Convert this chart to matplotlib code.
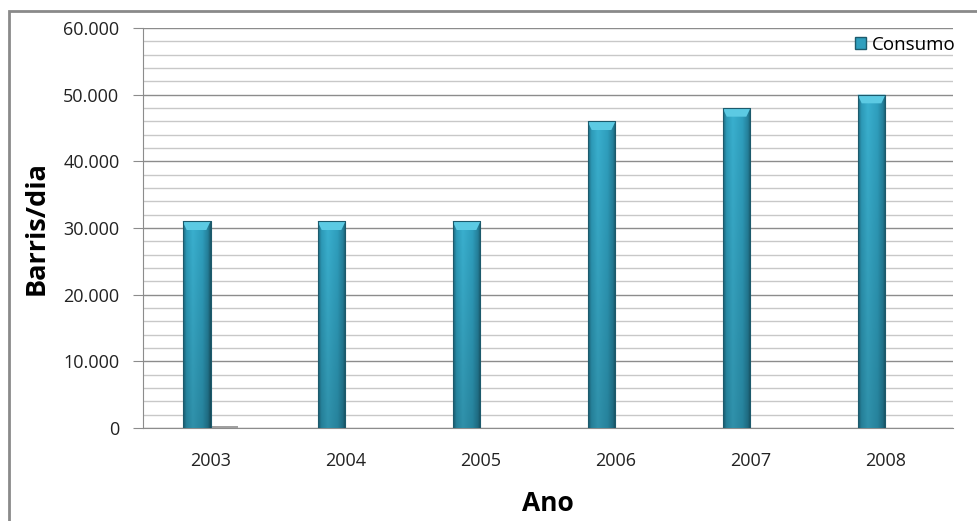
import matplotlib
matplotlib.use("Agg")
import matplotlib.pyplot as plt
import numpy as np
from matplotlib.patches import Rectangle
from matplotlib.colors import LinearSegmentedColormap
from matplotlib.ticker import FuncFormatter, MultipleLocator

anos = ["2003", "2004", "2005", "2006", "2007", "2008"]
consumo = [31000, 31000, 31000, 46000, 48000, 50000]
producao = [250, 0, 0, 0, 0, 0]

plt.rcParams['font.family'] = ['Open Sans', 'DejaVu Sans']

# cylinder shading across the bar width
cyl = LinearSegmentedColormap.from_list(
    "cyl", [(0.0, "#1f6a80"), (0.12, "#2d9bb9"), (0.35, "#3ab0cf"),
            (0.7, "#2f9fbe"), (0.9, "#25819c"), (1.0, "#1a5869")])

fig = plt.figure(figsize=(9.77, 5.21), dpi=100)
ax = fig.add_axes([143 / 977, 1 - 428 / 521, (953 - 143) / 977, 400 / 521])

x = np.arange(len(anos))
w = 0.207
bars = ax.bar(x - w / 2, consumo, w, color="#2f9fbe", zorder=3, label="Consumo")
ax.bar(x + w / 2, producao, w, color="#a0a0a0", zorder=3)

# horizontal shading, a bit darker towards the base
rgb = cyl(np.linspace(0, 1, 64))[:, :3]
shade = np.linspace(1.0, 0.82, 100)[:, None, None]
img = rgb[None, :, :] * shade

for b in bars:
    x0, y0 = b.get_x(), b.get_y()
    bw, bh = b.get_width(), b.get_height()
    im = ax.imshow(img, aspect="auto", zorder=4, origin="upper",
                   extent=[x0, x0 + bw, y0, y0 + bh])
    im.set_clip_path(b)
    # bevelled cap on top
    cap = 1300
    ax.fill([x0, x0 + bw, x0 + bw * 0.85, x0 + bw * 0.15],
            [y0 + bh, y0 + bh, y0 + bh - cap, y0 + bh - cap],
            color="#5ccae3", zorder=5, lw=0)
    ax.plot([x0, x0, x0 + bw, x0 + bw], [y0, y0 + bh, y0 + bh, y0],
            color="#1c5a6c", lw=0.8, zorder=6)

ax.set_xlim(-0.5, len(anos) - 0.5)
ax.set_ylim(0, 60000)
ax.set_xticks(x)
ax.set_xticklabels(anos)
ax.yaxis.set_major_locator(MultipleLocator(10000))
ax.yaxis.set_minor_locator(MultipleLocator(2000))
ax.yaxis.set_major_formatter(FuncFormatter(lambda v, p: f"{int(v):,}".replace(",", ".")))
ax.grid(axis="y", which="major", color="#8c8c8c", lw=1.0, zorder=0)
ax.grid(axis="y", which="minor", color="#c8c8c8", lw=1.0, zorder=0)
ax.tick_params(axis="x", length=0, pad=17, labelsize=13, colors="#222222")
ax.tick_params(axis="y", which="major", length=7, color="#8c8c8c", pad=10,
               labelsize=13, labelcolor="#222222")
ax.tick_params(axis="y", which="minor", length=0)
for s in ["top", "right"]:
    ax.spines[s].set_visible(False)
for s in ["left", "bottom"]:
    ax.spines[s].set_color("#8c8c8c")

ax.set_ylabel("Barris/dia", fontsize=19.5, fontweight="bold", labelpad=10)
ax.set_xlabel("Ano", fontsize=19, fontweight="bold", labelpad=15)

leg = ax.legend(loc="upper right", frameon=False, fontsize=13.5,
                handlelength=0.6, handleheight=0.6, handletextpad=0.3,
                bbox_to_anchor=(1.012, 1.0), borderaxespad=0)
leg.legend_handles[0].set_color("#2f9fbe")
leg.legend_handles[0].set_edgecolor("#1c5a6c")

# outer chart frame, running off the right and bottom edges
fig.patches.append(Rectangle((9 / 977, -0.1), 1.2, 1 - 11 / 521 + 0.1,
                             transform=fig.transFigure, fill=False,
                             edgecolor="#8a8a8a", lw=2))

fig.savefig("out.png", dpi=100)
